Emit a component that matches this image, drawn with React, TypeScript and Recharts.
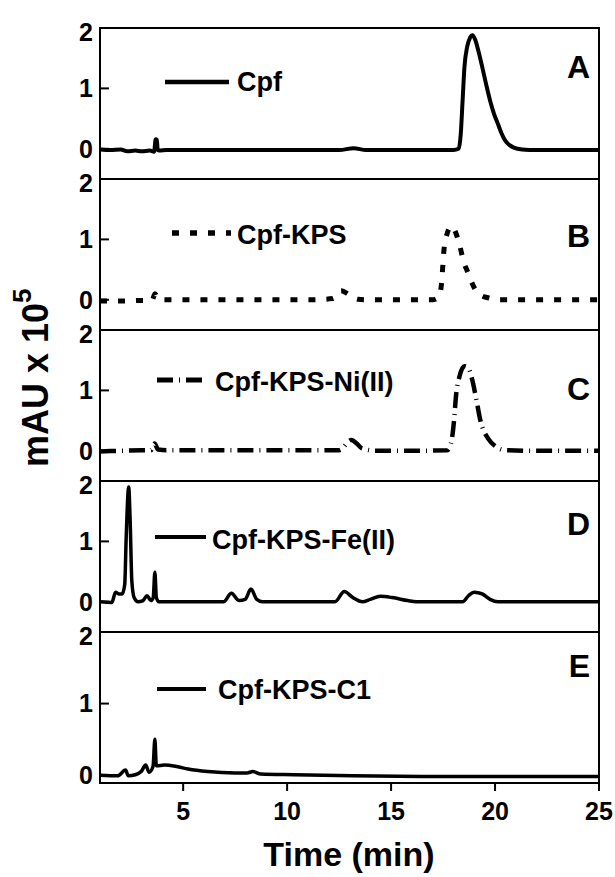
import React from "react";
import { LineChart, Line, XAxis, YAxis, ReferenceArea, ReferenceLine } from "recharts";

// ---- data (time in min, absorbance in mAU x 10^5) ----
const timeA = [1, 1.5, 2, 2.3, 2.7, 3.0, 3.4, 3.6, 3.68, 3.73, 3.78, 3.85, 4.2, 6, 8, 10, 12.5, 13.2, 13.8, 16, 18.0, 18.25, 18.35, 18.44, 18.53, 18.66, 18.8, 18.92, 19.05, 19.2, 19.38, 19.57, 19.76, 19.95, 20.14, 20.32, 20.5, 20.7, 20.9, 21.3, 22, 25];
const valueA = [-0.01, -0.02, -0.01, -0.04, -0.03, -0.04, -0.03, -0.05, 0.16, 0.15, -0.02, -0.03, -0.02, -0.02, -0.02, -0.02, -0.02, 0.01, -0.02, -0.02, -0.02, 0.0, 0.24, 0.8, 1.36, 1.69, 1.84, 1.88, 1.8, 1.62, 1.36, 1.07, 0.8, 0.58, 0.41, 0.25, 0.13, 0.06, 0.02, -0.01, -0.02, -0.02];

const timeB = [1, 2, 3, 3.5, 3.65, 3.75, 3.9, 5, 8, 11, 12.2, 12.6, 13.0, 13.4, 14, 16, 17.0, 17.3, 17.42, 17.55, 17.7, 17.9, 18.1, 18.3, 18.5, 18.7, 19.0, 19.3, 19.7, 20.1, 21, 25];
const valueB = [-0.02, -0.02, -0.01, -0.01, 0.1, 0.03, 0, 0, 0, 0, 0.02, 0.15, 0.08, 0.01, 0, 0, 0, 0.05, 0.25, 0.85, 1.1, 1.22, 1.12, 0.9, 0.62, 0.45, 0.2, 0.08, 0.03, 0, 0, 0];

const timeC = [1, 2, 3, 3.45, 3.62, 3.8, 4.2, 6, 9, 12.5, 13.1, 13.35, 13.6, 14.3, 16, 17.7, 17.88, 18.03, 18.12, 18.29, 18.53, 18.72, 18.9, 19.1, 19.29, 19.67, 20.04, 20.5, 22, 25];
const valueC = [-0.01, 0, 0.01, 0.01, 0.12, 0.02, 0.01, 0.01, 0.01, 0.01, 0.18, 0.12, 0.04, 0, 0, 0.01, 0.12, 0.51, 0.9, 1.23, 1.4, 1.37, 1.18, 0.85, 0.51, 0.2, 0.07, 0.01, 0, 0];

const timeD = [1, 1.57, 1.75, 1.9, 2.07, 2.19, 2.26, 2.38, 2.45, 2.53, 2.64, 2.83, 3.07, 3.26, 3.45, 3.56, 3.64, 3.71, 3.83, 6.94, 7.32, 7.69, 7.98, 8.26, 8.54, 8.82, 12.3, 12.75, 13.16, 13.63, 14.0, 14.48, 15.05, 15.8, 16.2, 18.44, 18.72, 19.0, 19.38, 19.76, 20.14, 25];
const valueD = [0, -0.01, 0.16, 0.13, 0.13, 0.29, 1.07, 1.9, 1.35, 0.35, 0.07, 0, 0.02, 0.1, 0.02, 0.07, 0.49, 0.07, 0, 0, 0.14, 0.02, 0.04, 0.21, 0.04, 0, 0, 0.17, 0.07, 0, 0.04, 0.09, 0.07, 0.02, 0, 0, 0.1, 0.16, 0.13, 0.04, 0, 0];

const timeE = [1, 1.85, 2.23, 2.36, 2.7, 2.98, 3.2, 3.36, 3.55, 3.64, 3.71, 4.1, 4.68, 5.24, 6.18, 7.5, 8.07, 8.35, 8.73, 10.33, 13.16, 16.9, 25];
const valueE = [0, -0.01, 0.07, -0.01, 0.005, 0.05, 0.14, 0.04, 0.12, 0.5, 0.13, 0.14, 0.12, 0.085, 0.05, 0.03, 0.03, 0.05, 0.015, 0.005, -0.01, -0.02, -0.02];

const panelLetters = ["A", "B", "C", "D", "E"];
const seriesNames = ["Cpf", "Cpf-KPS", "Cpf-KPS-Ni(II)", "Cpf-KPS-Fe(II)", "Cpf-KPS-C1"];
const xTicks = [5, 10, 15, 20, 25];
const yTicks = [0, 1, 2];
const yMins = [-0.5, -0.5, -0.5, -0.5, -0.11];
const yMax = 2;

const zip = (t: number[], v: number[]) => t.map((x, i) => ({ t: x, v: v[i] }));
const series = [zip(timeA, valueA), zip(timeB, valueB), zip(timeC, valueC), zip(timeD, valueD), zip(timeE, valueE)];

// ---- styles ----
const FONT = "'Liberation Sans', Arial, Helvetica, sans-serif";
const dashes = [undefined, "7 11", "16 6 1 6", undefined, undefined];
const widths = [4, 5, 4.5, 3.5, 3.5];
const PANEL_H = 151;
const TOP0 = 28;

const legendPos = [
  { x1: 165, x2: 229, ly: 82, tx: 237, ty: 91 },
  { x1: 172, x2: 231, ly: 233, tx: 237, ty: 244 },
  { x1: 157, x2: 202, ly: 380, tx: 215, ty: 391 },
  { x1: 155, x2: 206, ly: 537, tx: 212, ty: 549 },
  { x1: 157, x2: 206, ly: 689, tx: 218, ty: 699 },
];
const letterY = [78, 247, 400, 535, 677];

function Panel({ i }: { i: number }) {
  const last = i === 4;
  const xAxisH = last ? 60 : 10;
  const top = TOP0 + PANEL_H * i - 10;
  const height = 10 + PANEL_H + xAxisH;
  const yMin = yMins[i];
  return (
    <div style={{ position: "absolute", left: 0, top }}>
      <LineChart width={615} height={height} margin={{ top: 10, right: 16, bottom: 0, left: 0 }}>
        <XAxis
          dataKey="t"
          type="number"
          domain={[1, 25]}
          ticks={xTicks}
          allowDataOverflow
          axisLine={false}
          tickLine={{ stroke: "#000", strokeWidth: 2 }}
          tickSize={8}
          tickMargin={11}
          height={xAxisH}
          tick={last ? { fill: "#000", fontSize: 25, fontWeight: 700, fontFamily: FONT } : false}
        />
        <YAxis
          type="number"
          domain={[yMin, yMax]}
          ticks={yTicks}
          allowDataOverflow
          width={100}
          axisLine={false}
          tickLine={false}
          tickSize={0}
          tickMargin={7}
          tick={{ fill: "#000", fontSize: 25, fontWeight: 700, fontFamily: FONT }}
        />
        <ReferenceLine segment={[{ x: 1, y: 1 }, { x: 1.43, y: 1 }]} stroke="#000" strokeWidth={2} />
        <ReferenceLine segment={[{ x: 1, y: 0 }, { x: 1.43, y: 0 }]} stroke="#000" strokeWidth={2} />
        <Line
          data={series[i]}
          dataKey="v"
          type="monotone"
          stroke="#000"
          strokeWidth={widths[i]}
          strokeDasharray={dashes[i]}
          dot={false}
          activeDot={false}
          isAnimationActive={false}
        />
        <ReferenceArea x1={1} x2={25} y1={yMin} y2={yMax} fill="none" fillOpacity={0} stroke="#000" strokeWidth={2} />
      </LineChart>
    </div>
  );
}

export default function App() {
  return (
    <div style={{ position: "absolute", left: 0, top: 0, width: 615, height: 877, background: "#fff", fontFamily: FONT }}>
      {[0, 1, 2, 3, 4].map((i) => (
        <Panel key={i} i={i} />
      ))}
      <svg width={615} height={877} style={{ position: "absolute", left: 0, top: 0, pointerEvents: "none" }}>
        {legendPos.map((p, i) => (
          <g key={i}>
            <line x1={p.x1} x2={p.x2} y1={p.ly} y2={p.ly} stroke="#000" strokeWidth={widths[i] + 0.5} strokeDasharray={dashes[i]} />
            <text x={p.tx} y={p.ty} fontSize={27} fontWeight={700} fontFamily={FONT} fill="#000">
              {seriesNames[i]}
            </text>
            <text x={590} y={letterY[i]} fontSize={32} fontWeight={700} fontFamily={FONT} fill="#000" textAnchor="end">
              {panelLetters[i]}
            </text>
          </g>
        ))}
        <text transform="translate(48,467) rotate(-90)" fontSize={36} fontWeight={700} fontFamily={FONT} fill="#000">
          mAU x 10
          <tspan dy={-17} fontSize={26}>5</tspan>
        </text>
        <text x={349} y={866} textAnchor="middle" fontSize={34} fontWeight={700} fontFamily={FONT} fill="#000">
          Time (min)
        </text>
      </svg>
    </div>
  );
}
